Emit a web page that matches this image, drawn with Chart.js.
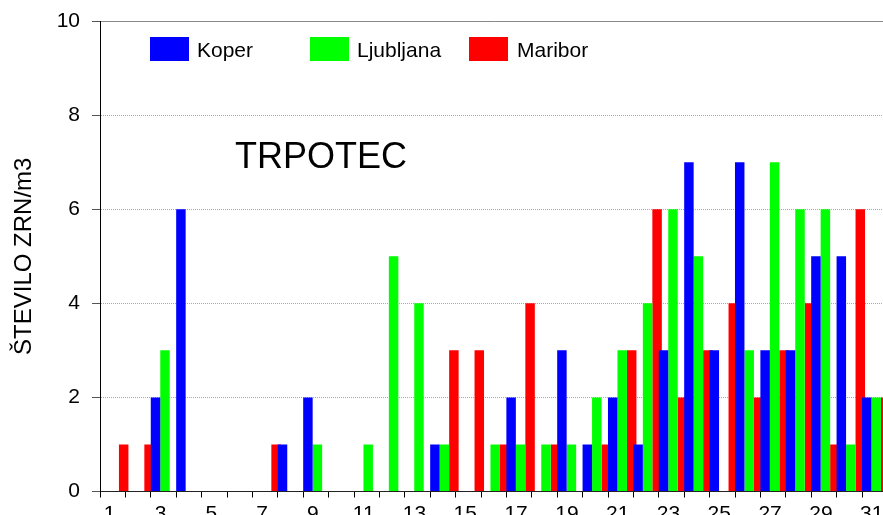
<!DOCTYPE html>
<html>
<head>
<meta charset="utf-8">
<script src="https://cdn.jsdelivr.net/npm/chart.js@4/dist/chart.umd.min.js"></script>
<style>
	body { margin: 0; overflow: hidden; background: #fff; font-family: "Liberation Sans", Arial, sans-serif; }
	#wrap { position: relative; width: 900px; height: 515px; }
	.box { position: absolute; top: 37px; width: 39px; height: 24px; }
	.lbl { position: absolute; top: 38px; font-size: 21px; line-height: 24px; color: #000; }
	#station { position: absolute; left: 235px; top: 133px; font-size: 36px; line-height: 46px; color: #000; }
</style>
</head>
<body>
<div id="wrap">
	<canvas id="pollenChart" width="900" height="515"></canvas>
	<div class="box" style="left:150px;background:#0000ff"></div>
	<div class="lbl" style="left:197px">Koper</div>
	<div class="box" style="left:310px;background:#00ff00"></div>
	<div class="lbl" style="left:357px">Ljubljana</div>
	<div class="box" style="left:469px;background:#ff0000"></div>
	<div class="lbl" style="left:517px">Maribor</div>
	<div id="station">TRPOTEC</div>
</div>
<script>
// Days of the month
const days = [];
for (let d = 1; d <= 31; d++) days.push(String(d));

// Daily pollen counts (grains/m3)
const koper = [0, 0, 2, 6, 0, 0, 0, 1, 2, 0, 0, 0, 0, 1, 0, 0, 2, 0, 3, 1, 2, 1, 3, 7, 3, 7, 3, 3, 5, 5, 2];
const ljubljana = [0, 0, 3, 0, 0, 0, 0, 0, 1, 0, 1, 5, 4, 1, 0, 1, 1, 1, 1, 2, 3, 4, 6, 5, 0, 3, 7, 6, 6, 1, 2];
const maribor = [1, 1, 0, 0, 0, 0, 1, 0, 0, 0, 0, 0, 0, 3, 3, 1, 4, 1, 0, 1, 3, 6, 2, 3, 4, 2, 3, 4, 1, 6, 2];

const yTicks = [0, 2, 4, 6, 8, 10];

// Bars in the original sit a little right of the category centre
const shiftBars = {
	id: "shiftBars",
	beforeDatasetsDraw(chart) {
		chart.ctx.save();
		chart.ctx.translate(1.5, 0);
	},
	afterDatasetsDraw(chart) {
		chart.ctx.restore();
	},
};

const ctx = document.getElementById("pollenChart").getContext("2d");

const chart = new Chart(ctx, {
	type: "bar",
	data: {
		labels: days,
		datasets: [
			{ label: "Koper", data: koper, backgroundColor: "#0000ff" },
			{ label: "Ljubljana", data: ljubljana, backgroundColor: "#00ff00" },
			{ label: "Maribor", data: maribor, backgroundColor: "#ff0000" },
		],
	},
	options: {
		responsive: false,
		animation: false,
		layout: { padding: { top: 21, right: 12.6, left: 0, bottom: 0 } },
		datasets: {
			bar: { categoryPercentage: 1.12, barPercentage: 1.0, borderWidth: 0 },
		},
		plugins: {
			legend: { display: false },
			tooltip: { enabled: false },
		},
		scales: {
			x: {
				offset: true,
				afterFit: (scale) => { scale.height = 23.5; },
				grid: {
					offset: true,
					drawOnChartArea: false,
					drawTicks: true,
					tickLength: 6,
					tickColor: "#000",
				},
				border: { color: "#222", width: 1 },
				ticks: {
					autoSkip: false,
					maxRotation: 0,
					padding: 4,
					labelOffset: -3,
					color: "#000",
					font: { family: "'Liberation Sans', Arial", size: 21 },
					callback: function (val, i) {
						return i % 2 === 0 ? days[i] : "";
					},
				},
			},
			y: {
				min: 0,
				max: 10,
				afterFit: (scale) => { scale.width = 100; },
				afterBuildTicks: (scale) => { scale.ticks = yTicks.map((v) => ({ value: v })); },
				grid: {
					drawTicks: true,
					tickLength: 8,
					tickColor: "#555",
					tickBorderDash: [],
					color: (c) => {
						if (!c.tick) return "transparent";
						if (c.tick.value === 0) return "transparent";
						if (c.tick.value === 10) return "#888";
						return "#aaa";
					},
				},
				border: {
					color: "#000",
					width: 1,
					dash: (c) => (c.tick && c.tick.value > 0 && c.tick.value < 10 ? [1, 1] : []),
				},
				ticks: {
					padding: 12,
					color: "#000",
					font: { family: "'Liberation Sans', Arial", size: 21, lineHeight: 0.5 },
				},
				title: {
					display: true,
					text: "ŠTEVILO ZRN/m3",
					color: "#000",
					padding: { top: 10, bottom: 0 },
					font: { family: "'Liberation Sans', Arial", size: 24, weight: "normal" },
				},
			},
		},
	},
	plugins: [shiftBars],
});
</script>
</body>
</html>
